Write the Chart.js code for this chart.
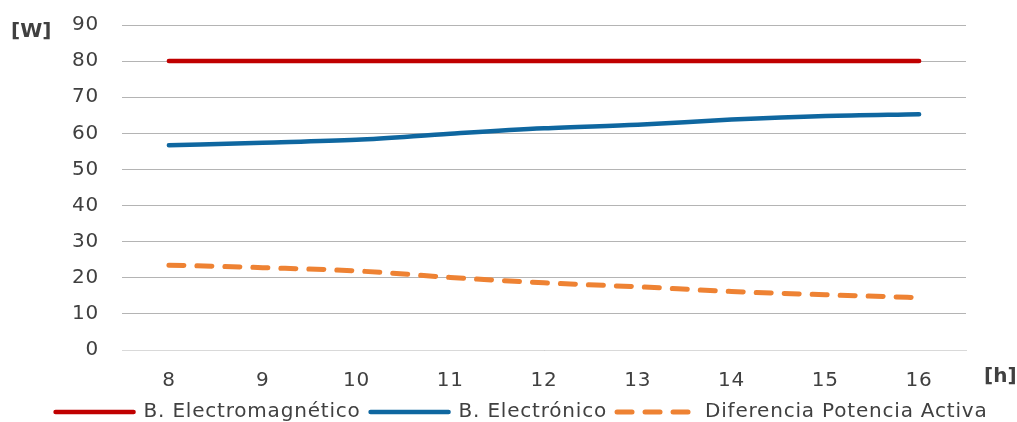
<!DOCTYPE html>
<html>
<head>
<meta charset="utf-8">
<script src="https://cdn.jsdelivr.net/npm/chart.js@4"></script>
<style>
  html, body { margin: 0; padding: 0; background: #ffffff; }
  #wrap { width: 1017px; height: 422px; position: relative; }
</style>
</head>
<body>
<div id="wrap"><canvas id="c" width="1017" height="422"></canvas></div>
<script>
const hours = ['8', '9', '10', '11', '12', '13', '14', '15', '16'];
const electromagnetico = [80, 80, 80, 80, 80, 80, 80, 80, 80];
const electronico = [56.7, 57.4, 58.2, 59.9, 61.4, 62.4, 63.8, 64.8, 65.3];
const diferencia = [23.5, 22.8, 21.9, 20.1, 18.6, 17.5, 16.2, 15.3, 14.5];
const yTicks = [0, 10, 20, 30, 40, 50, 60, 70, 80, 90];
const seriesNames = ['B. Electromagnético', 'B. Electrónico', 'Diferencia Potencia Activa'];
const yUnit = '[W]';
const xUnit = '[h]';

const FONT = 'DejaVu Sans';
const TXT = '#404040';
const SPACING = '0.8px';

const spacingPlugin = {
  id: 'spacing',
  beforeLayout(chart) { chart.ctx.letterSpacing = SPACING; },
  beforeDraw(chart) { chart.ctx.letterSpacing = SPACING; }
};

const unitLabels = {
  id: 'unitLabels',
  afterDraw(chart) {
    const ctx = chart.ctx;
    ctx.save();
    ctx.letterSpacing = '0px';
    ctx.fillStyle = TXT;
    ctx.font = 'bold 20px "' + FONT + '"';
    ctx.textBaseline = 'middle';
    ctx.textAlign = 'left';
    ctx.fillText(yUnit, 11, 32);
    ctx.fillText(xUnit, 984, 377);
    ctx.restore();
  }
};

new Chart(document.getElementById('c'), {
  type: 'line',
  data: {
    labels: hours,
    datasets: [
      { label: seriesNames[0], data: electromagnetico, borderColor: '#C00000', backgroundColor: '#C00000',
        borderWidth: 4.5, pointRadius: 0, borderCapStyle: 'round', cubicInterpolationMode: 'monotone' },
      { label: seriesNames[1], data: electronico, borderColor: '#0F67A0', backgroundColor: '#0F67A0',
        borderWidth: 4.5, pointRadius: 0, borderCapStyle: 'round', cubicInterpolationMode: 'monotone' },
      { label: seriesNames[2], data: diferencia, borderColor: '#EE8233', backgroundColor: '#EE8233',
        borderWidth: 5, borderDash: [15, 13], pointRadius: 0, borderCapStyle: 'round', cubicInterpolationMode: 'monotone' }
    ]
  },
  options: {
    responsive: false,
    animation: false,
    events: [],
    layout: { padding: { top: 25, right: 0, left: 26, bottom: -10 } },
    scales: {
      x: {
        type: 'category',
        offset: true,
        grid: { display: false, drawTicks: false },
        border: { display: true, color: '#d9d9d9', width: 1 },
        ticks: { color: TXT, font: { family: FONT, size: 20 }, padding: 19, maxRotation: 0 },
        afterFit(scale) { scale.height = 42; }
      },
      y: {
        min: 0, max: 90,
        afterBuildTicks(scale) { scale.ticks = yTicks.map(v => ({ value: v })); },
        grid: { color: '#b4b4b4', lineWidth: 1, drawTicks: false },
        border: { display: false },
        ticks: { color: TXT, font: { family: FONT, size: 20 }, padding: 23 },
        afterFit(scale) { scale.width = 96; scale.paddingTop = 0; scale.paddingBottom = 0; }
      },
      yRight: {
        type: 'linear',
        position: 'right',
        display: true,
        grid: { display: false, drawTicks: false },
        border: { display: false },
        ticks: { display: false },
        afterFit(scale) { scale.width = 51; scale.paddingTop = 0; scale.paddingBottom = 0; }
      }
    },
    plugins: {
      legend: {
        position: 'bottom',
        labels: {
          usePointStyle: true,
          pointStyle: 'line',
          pointStyleWidth: 78,
          boxHeight: 20,
          color: TXT,
          font: { family: FONT, size: 20 },
          padding: 10,
          generateLabels(chart) {
            return chart.data.datasets.map((ds, i) => ({
              text: ds.label,
              fillStyle: ds.borderColor,
              strokeStyle: ds.borderColor,
              fontColor: TXT,
              lineWidth: ds.borderWidth,
              lineDash: ds.borderDash || [],
              lineCap: 'round',
              pointStyle: 'line',
              hidden: false,
              datasetIndex: i
            }));
          }
        }
      },
      tooltip: { enabled: false }
    }
  },
  plugins: [spacingPlugin, unitLabels]
});
</script>
</body>
</html>
